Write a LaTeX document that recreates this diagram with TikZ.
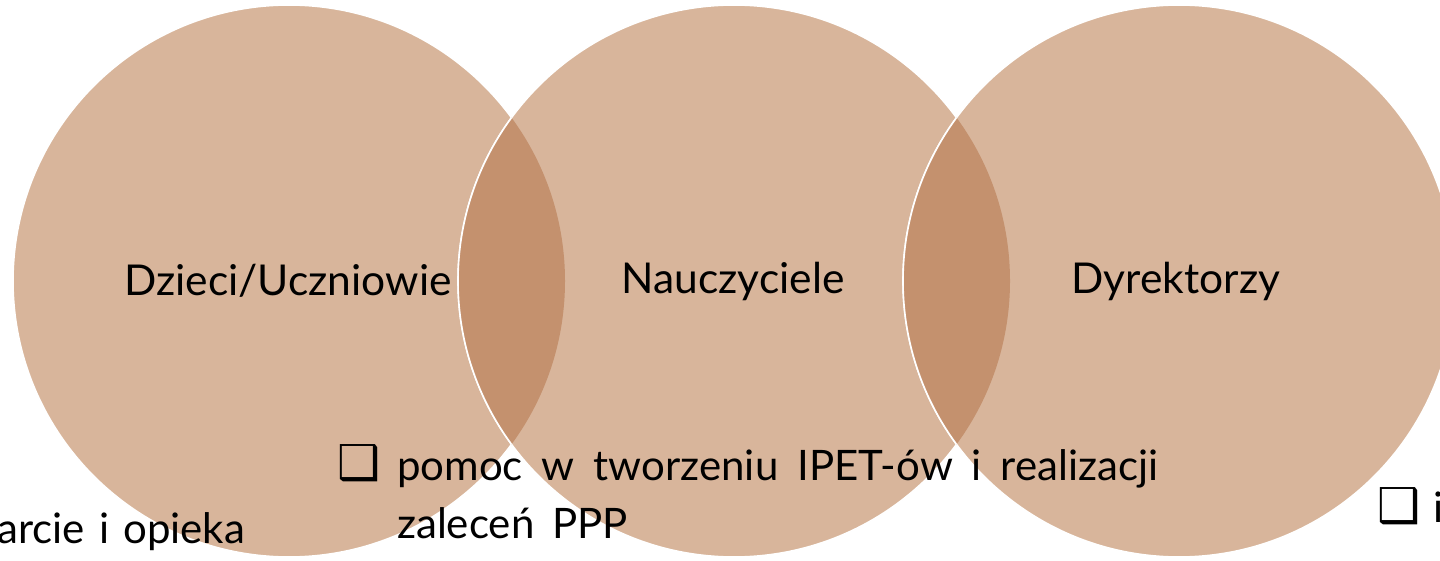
\documentclass[tikz,border=0pt]{standalone}
\usepackage{fontspec}
\setmainfont{Lato}
\newfontfamily\symfont{DejaVu Sans}
\definecolor{circfill}{HTML}{D8B59B}
\definecolor{lensfill}{HTML}{C4916E}
\begin{document}
\begin{tikzpicture}[x=1pt,y=1pt,
  circ/.style={fill=circfill,draw=white,line width=1.6pt},
  lbl/.style={font=\fontsize{42.5}{50}\selectfont,text=black,inner sep=0pt},
  txt/.style={font=\fontsize{42}{50}\selectfont,text=black,inner sep=0pt,anchor=base west},
  box/.style={font=\fontsize{48}{56}\selectfont\symfont,text=black,inner sep=0pt,anchor=base west}]
\useasboundingbox (0,0) rectangle (1440,-561);
\coordinate (c1) at (289,-281);
\coordinate (c2) at (734,-281);
\coordinate (c3) at (1179,-281);
\def\R{276}
\draw[circ] (c1) circle (\R);
\draw[circ] (c2) circle (\R);
\draw[circ] (c3) circle (\R);
% lenses
\begin{scope}
  \clip (c1) circle (\R);
  \fill[lensfill] (c2) circle (\R);
\end{scope}
\begin{scope}
  \clip (c2) circle (\R);
  \fill[lensfill] (c3) circle (\R);
\end{scope}
% outlines of later circles over lenses
\begin{scope}
  \clip (c1) circle (\R);
  \draw[white,line width=1.6pt] (c2) circle (\R);
\end{scope}
\begin{scope}
  \clip (c2) circle (\R);
  \draw[white,line width=1.6pt] (c3) circle (\R);
\end{scope}
% labels
\node[lbl] (l1) at (288,-281) {Dzieci/Uczniowie};
\node[lbl] (l2) at (733,-281) {Nauczyciele};
\node[lbl] (l3) at (1176,-281) {Dyrektorzy};
% bottom texts
\node[box] (b1) at (337,-479) {❑};
\node[txt] (t1) at (397,-480) {\makebox[761pt][s]{pomoc w tworzeniu IPET-ów i realizacji}};
\node[txt] (t2) at (397,-538) {zaleceń\hspace{18pt}PPP};
\node[txt] (t3) at (-3,-543) {\makebox[248pt][s]{arcie i opieka}};
\node[box] (b2) at (1377,-522) {❑};
\node[txt] (t4) at (1433,-522) {i};
\end{tikzpicture}
\end{document}
